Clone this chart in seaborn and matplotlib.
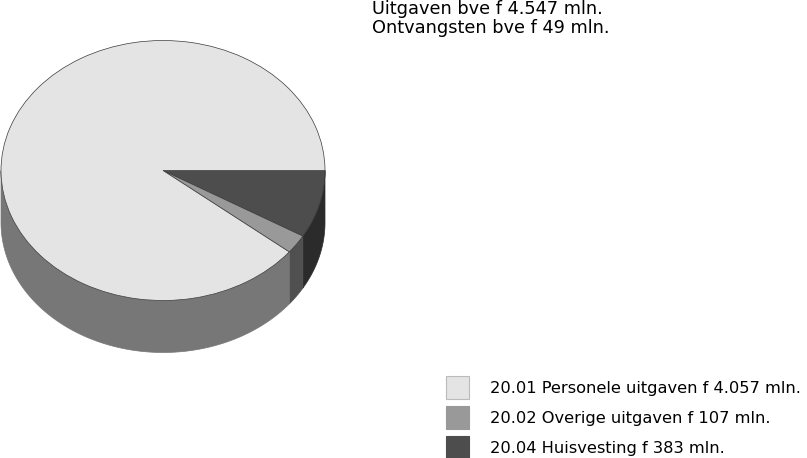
import numpy as np
import matplotlib
matplotlib.use("Agg")
import matplotlib.pyplot as plt
import seaborn as sns
from matplotlib.patches import Polygon
from matplotlib.transforms import Affine2D

# data (mln. gulden)
labels = [
    "20.04 Huisvesting f 383 mln.",
    "20.02 Overige uitgaven f 107 mln.",
    "20.01 Personele uitgaven f 4.057 mln.",
]
values = [383, 107, 4057]
top_colors = ["#4d4d4d", "#999999", "#e4e4e4"]
side_colors = ["#2b2b2b", "#505050", "#777777"]
title_lines = ["Uitgaven bve f 4.547 mln.", "Ontvangsten bve f 49 mln."]

sns.set_theme(style="white")
plt.rcParams["font.family"] = ["DejaVu Sans"]
plt.rcParams["text.color"] = "black"

fig = plt.figure(figsize=(8.07, 4.58), dpi=100)
ax = fig.add_axes([0, 0, 1, 1])

# pixel-like coordinate system, y pointing down
cx, cy, rx, ry, depth = 163, 170.5, 162, 130, 0.40
ellipse = Affine2D().scale(rx, ry).translate(cx, cy) + ax.transData

# side walls (front half only)
bounds = np.concatenate([[0], np.cumsum(values)]) / sum(values) * 360
for a0, a1, col in zip(bounds[:-1], bounds[1:], side_colors):
    lo, hi = max(a0, 0), min(a1, 180)
    if hi <= lo:
        continue
    t = np.radians(np.linspace(lo, hi, 100))
    top = np.column_stack([np.cos(t), np.sin(t)])
    bot = top[::-1] + [0, depth]
    wall = Polygon(np.vstack([top, bot]), closed=True, facecolor=col,
                   edgecolor=col, linewidth=0.5, transform=ellipse, zorder=1)
    ax.add_patch(wall)

wedges, _ = ax.pie(values, colors=top_colors, startangle=0, counterclock=True,
                   wedgeprops=dict(edgecolor="#3a3a3a", linewidth=0.5))
for w in wedges:
    w.set_transform(ellipse)
    w.set_zorder(2)

ax.set_xlim(0, 807)
ax.set_ylim(458, 0)
ax.set_aspect("auto")
ax.axis("off")

ax.text(372, 14, title_lines[0], fontsize=12.8, va="baseline", ha="left")
ax.text(372, 33, title_lines[1], fontsize=12.8, va="baseline", ha="left")

order = [2, 1, 0]
leg = ax.legend([wedges[i] for i in order], [labels[i] for i in order],
                loc="upper left", bbox_to_anchor=(446, 376),
                bbox_transform=ax.transData, frameon=False, fontsize=11.7,
                handlelength=1.42, handleheight=1.8, handletextpad=1.3,
                labelspacing=0.43, borderpad=0, borderaxespad=0)
for h, i in zip(leg.legend_handles, order):
    h.set_edgecolor("#bbbbbb" if i == 2 else top_colors[i])
    h.set_linewidth(0.8)

fig.savefig("out.png", dpi=100)
